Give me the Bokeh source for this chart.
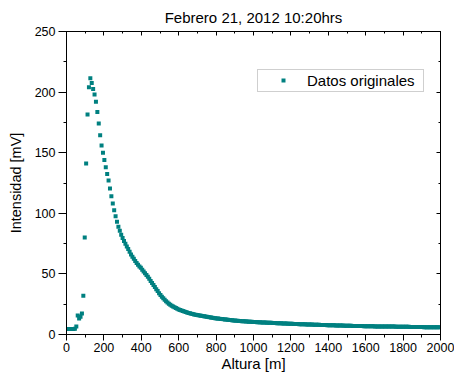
from bokeh.plotting import figure
from bokeh.models import (Range1d, LinearAxis, SingleIntervalTicker, Legend, LegendItem, Title,
                          CustomJSTickFormatter)
from bokeh.embed import file_html
from bokeh.resources import INLINE

titulo = "Febrero 21, 2012 10:20hrs"
etiqueta_x = "Altura [m]"
etiqueta_y = "Intensidad [mV]"
serie_nombre = "Datos originales"

altura_inicio = 7.5
altura_paso = 7.5

intensidad = [
    4.6, 4.5, 4.6, 4.5, 4.6, 4.7,
    6.5, 15.7, 13.2, 14.6, 17.3, 32.0, 80.0, 141.0, 181.5, 204.0,
    211.5, 207.5, 202.5, 198.0, 192.0, 183.5, 174.0, 164.5, 156.0, 150.0,
    144.0, 138.0, 132.5, 127.0, 120.5, 114.0, 108.0, 102.5, 97.5, 93.0,
    89.0, 85.7,
    82.3, 79.6, 77.2, 74.9, 72.6, 70.5, 68.3, 66.1, 64.2, 62.4,
    60.7, 59.0, 57.5, 56.2, 55.0, 53.5, 52.0, 50.5, 49.0, 47.6,
    45.9, 44.2, 42.5, 40.8, 39.1, 37.4, 35.8, 34.1, 32.6, 31.2,
    29.9, 28.6, 27.4, 26.3, 25.4, 24.5, 23.7, 23.0, 22.4, 21.8,
    21.2, 20.7, 20.2, 19.7, 19.3, 18.9, 18.5, 18.1, 17.8, 17.5,
    17.2, 16.9, 16.6, 16.3, 16.1, 15.9, 15.6, 15.4, 15.2, 15.0,
    14.8, 14.6, 14.4, 14.2, 14.0, 13.8, 13.6, 13.5, 13.3, 13.1,
    13.0, 12.8, 12.7, 12.5, 12.4, 12.3, 12.1, 12.0, 11.9, 11.8,
    11.6, 11.5, 11.4, 11.3, 11.2, 11.1, 11.0, 10.9, 10.9, 10.8,
    10.7, 10.6, 10.6, 10.5, 10.4, 10.3, 10.3, 10.2, 10.1, 10.1,
    10.0, 9.9, 9.9, 9.8, 9.7, 9.7, 9.6, 9.6, 9.5, 9.4,
    9.4, 9.3, 9.3, 9.2, 9.2, 9.1, 9.1, 9.0, 9.0, 8.9,
    8.9, 8.8, 8.8, 8.7, 8.7, 8.6, 8.6, 8.5, 8.5, 8.5,
    8.4, 8.4, 8.3, 8.3, 8.2, 8.2, 8.2, 8.1, 8.1, 8.0,
    8.0, 8.0, 7.9, 7.9, 7.8, 7.8, 7.8, 7.7, 7.7, 7.7,
    7.6, 7.6, 7.6, 7.5, 7.5, 7.5, 7.4, 7.4, 7.4, 7.3,
    7.3, 7.3, 7.2, 7.2, 7.2, 7.1, 7.1, 7.1, 7.1, 7.0,
    7.0, 7.0, 7.0, 6.9, 6.9, 6.9, 6.9, 6.8, 6.8, 6.8,
    6.8, 6.7, 6.7, 6.7, 6.7, 6.7, 6.6, 6.6, 6.6, 6.6,
    6.6, 6.5, 6.5, 6.5, 6.5, 6.5, 6.4, 6.4, 6.4, 6.4,
    6.4, 6.3, 6.3, 6.3, 6.3, 6.3, 6.2, 6.2, 6.2, 6.2,
    6.2, 6.1, 6.1, 6.1, 6.1, 6.1, 6.0, 6.0, 6.0, 6.0,
    6.0, 6.0, 5.9, 5.9, 5.9, 5.9, 5.9, 5.9,
]
altura = [altura_inicio + altura_paso * i for i in range(len(intensidad))]

FONT = "Liberation Sans"
TEAL = "#008080"

p = figure(width=454, height=374, output_backend="svg", toolbar_location=None,
           x_range=Range1d(0, 2000), y_range=Range1d(0, 250),
           min_border_left=66, min_border_right=14, min_border_top=29, min_border_bottom=40,
           background_fill_color="white", border_fill_color="white")
p.title = Title(text=titulo, align="center", text_font=FONT, text_font_size="15px",
                text_font_style="normal", text_color="black", offset=0, standoff=12)
p.xgrid.visible = False
p.ygrid.visible = False
p.outline_line_color = "black"

def style_main(ax, tick_out):
    ax.axis_line_color = "black"
    ax.major_tick_line_color = "black"
    ax.minor_tick_line_color = "black"
    ax.major_tick_in = 0
    ax.major_tick_out = tick_out
    ax.minor_tick_in = 0
    ax.minor_tick_out = 3
    ax.major_label_text_font = FONT
    ax.major_label_text_font_size = "12.5px"
    ax.major_label_text_color = "black"
    ax.axis_label_text_font = FONT
    ax.axis_label_text_font_style = "normal"
    ax.axis_label_text_color = "black"

xa = p.xaxis[0]
xa.ticker = SingleIntervalTicker(interval=200, num_minor_ticks=2)
style_main(xa, 6)
xa.major_label_standoff = 2
xa.axis_label = etiqueta_x
xa.axis_label_text_font_size = "15px"
xa.axis_label_standoff = 0

ya = p.yaxis[0]
ya.ticker = SingleIntervalTicker(interval=50, num_minor_ticks=2)
style_main(ya, 8)
ya.major_label_standoff = 3
ya.axis_label = etiqueta_y
ya.axis_label_text_font_size = "14.5px"
ya.axis_label_standoff = 8

def mirror(interval):
    return LinearAxis(ticker=SingleIntervalTicker(interval=interval, num_minor_ticks=2),
                      formatter=CustomJSTickFormatter(code="return ''"),
                      major_label_text_font_size="1px", major_label_standoff=0,
                      major_tick_in=4, major_tick_out=0, minor_tick_in=2, minor_tick_out=0,
                      axis_line_color="black", major_tick_line_color="black",
                      minor_tick_line_color="black")

p.add_layout(mirror(200), "above")
p.add_layout(mirror(50), "right")

r = p.scatter(altura, intensidad, marker="square", size=4,
              fill_color=TEAL, line_color=None)

legend = Legend(items=[LegendItem(label=serie_nombre, renderers=[r])],
                location=(191, 242.5), padding=2, margin=0, spacing=0,
                glyph_width=46, glyph_height=10, label_standoff=1,
                label_width=114, label_height=15,
                label_text_font=FONT, label_text_font_size="15px", label_text_color="black",
                border_line_color="#a0a0a0", border_line_width=1,
                background_fill_color="white", background_fill_alpha=1)
p.add_layout(legend)

open("out.html", "w").write(file_html(p, INLINE))
